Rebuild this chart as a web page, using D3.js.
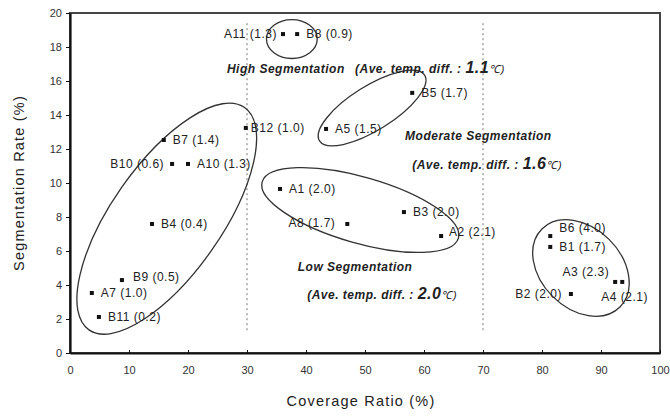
<!DOCTYPE html>
<html lang="en">
<head>
  <meta charset="UTF-8">
  <title>Segmentation Rate vs Coverage Ratio</title>
  <style>
    body {
      margin: 0;
      padding: 0;
      background: #fff;
      font-family: "Liberation Sans", Arial, sans-serif;
    }
    .axis text {
      font-size: 11px;
      fill: #333;
      font-family: "Liberation Sans", Arial, sans-serif;
    }
    .axis path, .axis line {
      stroke: #111;
    }
    .ptlabel {
      font-size: 12px;
      letter-spacing: 0.5px;
      fill: #222;
    }
    .region {
      font-size: 12px;
      letter-spacing: 0.5px;
      font-weight: bold;
      font-style: italic;
      fill: #222;
    }
    .title {
      font-size: 14.5px;
      letter-spacing: 1.2px;
      fill: #222;
    }
    .ring {
      fill: none;
      stroke: #333;
      stroke-width: 1.3;
    }
  </style>
</head>
<body>
  <div id="chart"></div>
  <script src="https://d3js.org/d3.v7.min.js"></script>
  <script>
    // sample points: name, coverage ratio (%), segmentation rate (%), ave. temp. diff
    const names    = ["A11", "B8", "B12", "B7", "B10", "A10", "A1", "A5", "B5", "B4", "B9",
                      "A7", "B11", "A8", "B3", "A2", "B6", "B1", "A3", "A4", "B2"];
    const coverage = [36.1, 38.5, 29.8, 15.9, 17.3, 20.0, 35.6, 43.4, 58.0, 13.9, 8.8,
                      3.7, 4.9, 47.0, 56.6, 62.9, 81.4, 81.4, 92.4, 93.6, 84.9];
    const segRate  = [18.76, 18.76, 13.24, 12.53, 11.12, 11.12, 9.65, 13.18, 15.3, 7.59, 4.29,
                      3.53, 2.12, 7.59, 8.29, 6.88, 6.88, 6.24, 4.18, 4.18, 3.47];
    const tempDiff = [1.3, 0.9, 1.0, 1.4, 0.6, 1.3, 2.0, 1.5, 1.7, 0.4, 0.5,
                      1.0, 0.2, 1.7, 2.0, 2.1, 4.0, 1.7, 2.3, 2.1, 2.0];

    const xTicks = [0, 10, 20, 30, 40, 50, 60, 70, 80, 90, 100];
    const yTicks = [0, 2, 4, 6, 8, 10, 12, 14, 16, 18, 20];
    const splitLines = [30, 70];

    // grouping ellipses (centre in data units, radii in coverage units, rotation deg)
    const rings = [
      { cx: 37.6, cy: 18.47, a: 4.3,  b: 3.3,  rot: 0 },
      { cx: 16.4, cy: 7.9,   a: 23.0, b: 9.3,  rot: -55 },
      { cx: 51.2, cy: 14.41, a: 10.5, b: 3.75, rot: -32 },
      { cx: 49.2, cy: 8.41,  a: 17.3, b: 5.6,  rot: 16 },
      { cx: 86.6, cy: 5.0,   a: 9.35, b: 6.8,  rot: 45 }
    ];

    // region captions
    const regionText = ["High Segmentation", "Moderate Segmentation", "Low Segmentation"];
    const regionDiff = ["1.1", "1.6", "2.0"];

    const width = 670, height = 420;
    const margin = { top: 13, right: 10, bottom: 67, left: 70 };

    const x = d3.scaleLinear().domain([0, 100]).range([margin.left, width - margin.right]);
    const y = d3.scaleLinear().domain([0, 20]).range([height - margin.bottom, margin.top]);

    const svg = d3.select("#chart").append("svg")
      .attr("width", width)
      .attr("height", height);

    // plot frame
    svg.append("rect")
      .attr("x", x(0)).attr("y", y(20))
      .attr("width", x(100) - x(0)).attr("height", y(0) - y(20))
      .attr("fill", "none")
      .attr("stroke", "#444")
      .attr("stroke-width", 2);

    // axes
    const gx = svg.append("g")
      .attr("class", "axis")
      .attr("transform", `translate(0,${y(0)})`)
      .call(d3.axisBottom(x).tickValues(xTicks).tickSize(-3).tickSizeOuter(0).tickPadding(13));
    gx.select(".domain").attr("stroke-width", 2.2);

    const gy = svg.append("g")
      .attr("class", "axis")
      .attr("transform", `translate(${x(0)},0)`)
      .call(d3.axisLeft(y).tickValues(yTicks).tickSize(4).tickSizeOuter(0).tickPadding(4));
    gy.select(".domain").attr("stroke-width", 2.2);

    // axis titles
    svg.append("text")
      .attr("class", "title")
      .attr("x", 361).attr("y", 406)
      .attr("text-anchor", "middle")
      .text("Coverage Ratio (%)");

    svg.append("text")
      .attr("class", "title")
      .attr("transform", `translate(24,${(y(0) + y(20)) / 2}) rotate(-90)`)
      .attr("text-anchor", "middle")
      .text("Segmentation Rate (%)");

    // dotted split lines
    svg.selectAll(".split")
      .data(splitLines)
      .enter().append("line")
      .attr("x1", d => x(d)).attr("x2", d => x(d))
      .attr("y1", y(19.4)).attr("y2", y(1.2))
      .attr("stroke", "#777")
      .attr("stroke-width", 1)
      .attr("stroke-dasharray", "2,3");

    // ellipses
    svg.selectAll(".ring")
      .data(rings)
      .enter().append("ellipse")
      .attr("class", "ring")
      .attr("transform", d => `translate(${x(d.cx)},${y(d.cy)}) rotate(${d.rot})`)
      .attr("rx", d => x(d.a) - x(0))
      .attr("ry", d => x(d.b) - x(0));

    // points
    const pts = names.map((n, i) => ({ name: n, cx: coverage[i], sr: segRate[i], t: tempDiff[i] }));

    svg.selectAll(".pt")
      .data(pts)
      .enter().append("rect")
      .attr("x", d => x(d.cx) - 2)
      .attr("y", d => y(d.sr) - 2)
      .attr("width", 4).attr("height", 4)
      .attr("fill", "#111");

    // label placement: [dx, dy, anchor]
    const place = {
      A11: [-6, 4, "end"], B10: [-8, 4, "end"], A8: [-12, 3, "end"], B2: [-9, 4, "end"],
      A3: [-6, -6, "end"], A4: [-21, 19, "start"], B6: [9, -4, "start"], B9: [11, 1, "start"],
      A2: [8, 0, "start"], B12: [5, 4, "start"]
    };

    svg.selectAll(".ptlabel")
      .data(pts)
      .enter().append("text")
      .attr("class", "ptlabel")
      .attr("x", d => x(d.cx) + (place[d.name] ? place[d.name][0] : 9))
      .attr("y", d => y(d.sr) + (place[d.name] ? place[d.name][1] : 4))
      .attr("text-anchor", d => place[d.name] ? place[d.name][2] : "start")
      .text(d => `${d.name} (${d.t.toFixed(1)})`);

    // region captions
    function diffText(sel, v) {
      sel.append("tspan").text("(Ave. temp. diff. : ");
      sel.append("tspan").style("font-size", "16px").text(v);
      sel.append("tspan").style("font-weight", "normal").style("font-size", "11px").text("\u2103)");
    }

    svg.append("text").attr("class", "region")
      .attr("x", x(26.6)).attr("y", y(16.5))
      .text(regionText[0]);
    svg.append("text").attr("class", "region")
      .attr("x", x(48.3)).attr("y", y(16.5))
      .call(diffText, regionDiff[0]);

    svg.append("text").attr("class", "region")
      .attr("x", x(56.8)).attr("y", y(12.53))
      .text(regionText[1]);
    svg.append("text").attr("class", "region")
      .attr("x", x(58.0)).attr("y", y(10.82))
      .call(diffText, regionDiff[1]);

    svg.append("text").attr("class", "region")
      .attr("x", x(38.6)).attr("y", y(4.82))
      .text(regionText[2]);
    svg.append("text").attr("class", "region")
      .attr("x", x(40.2)).attr("y", y(3.18))
      .call(diffText, regionDiff[2]);
  </script>
</body>
</html>
